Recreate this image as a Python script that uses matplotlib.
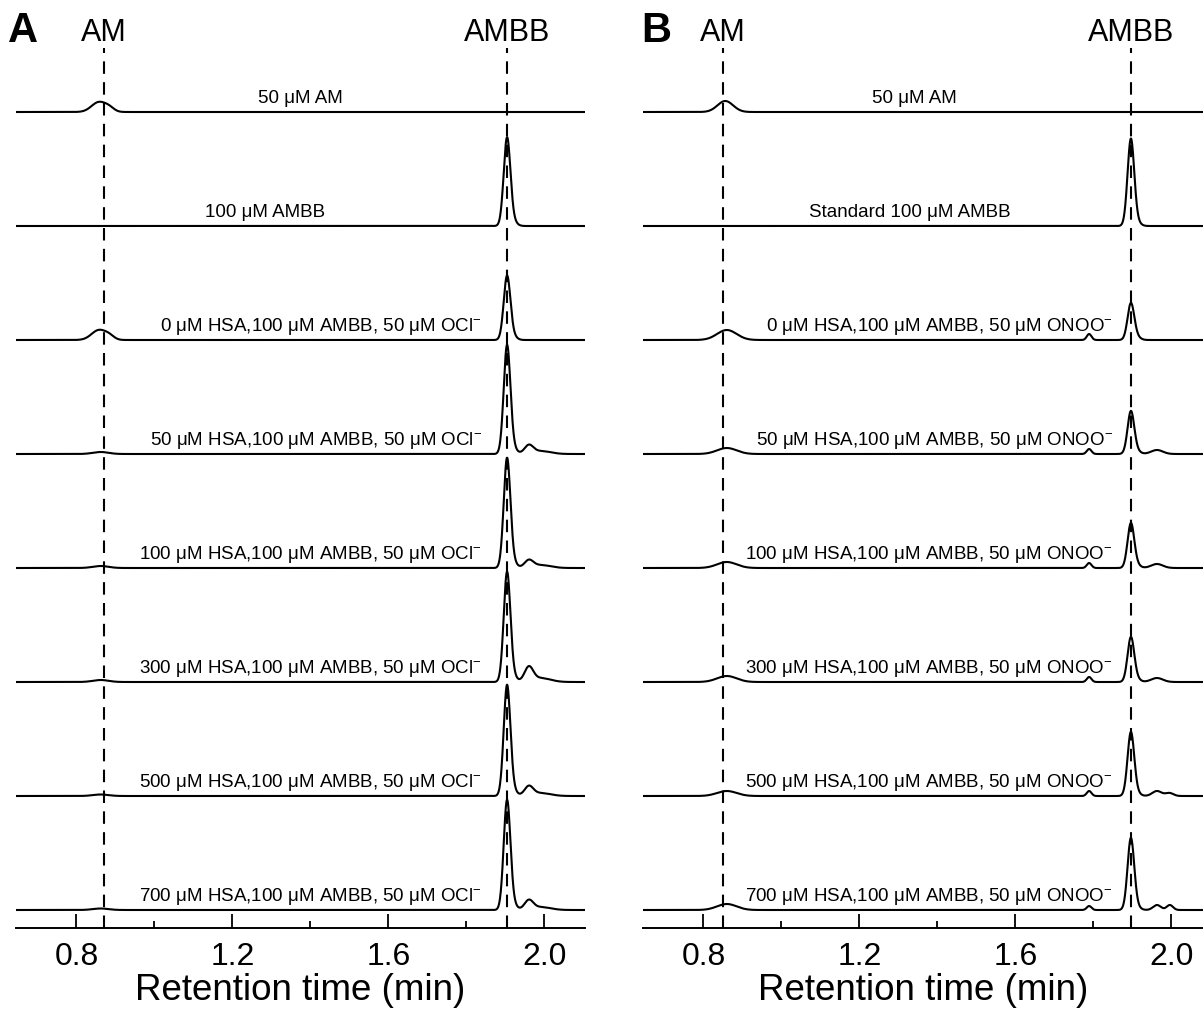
import numpy as np
import matplotlib
matplotlib.use('agg')
import matplotlib.pyplot as plt

plt.rcParams['font.family'] = ['Liberation Sans', 'DejaVu Sans']
plt.rcParams['mathtext.fontset'] = 'custom'
plt.rcParams['mathtext.rm'] = 'Liberation Sans'
plt.rcParams['mathtext.it'] = 'Liberation Sans:italic'
plt.rcParams['mathtext.bf'] = 'Liberation Sans:bold'

# peak tables: (retention time, height, width) per trace, heights in px-like units
labels_a = ['50 μM AM', '100 μM AMBB',
            '0 μM HSA,100 μM AMBB, 50 μM OCl$^{-}$',
            '50 μM HSA,100 μM AMBB, 50 μM OCl$^{-}$',
            '100 μM HSA,100 μM AMBB, 50 μM OCl$^{-}$',
            '300 μM HSA,100 μM AMBB, 50 μM OCl$^{-}$',
            '500 μM HSA,100 μM AMBB, 50 μM OCl$^{-}$',
            '700 μM HSA,100 μM AMBB, 50 μM OCl$^{-}$']
peaks_a = [[(0.858, 10, 0.019), (0.885, 3, 0.012)],
           [(1.904, 87, 0.0085), (1.918, 5, 0.01)],
           [(0.858, 10, 0.019), (0.885, 3, 0.012), (1.904, 63, 0.0085), (1.918, 4, 0.01)],
           [(0.862, 2, 0.02), (1.904, 107, 0.0085), (1.918, 6, 0.01), (1.960, 8, 0.011), (1.99, 3, 0.025)],
           [(0.862, 2, 0.02), (1.904, 108, 0.0085), (1.918, 6, 0.01), (1.960, 7, 0.011), (1.99, 3, 0.025)],
           [(0.862, 2, 0.02), (1.904, 108, 0.0085), (1.918, 6, 0.01), (1.960, 14, 0.011), (1.99, 4, 0.025)],
           [(0.862, 1.5, 0.02), (1.904, 109, 0.0085), (1.918, 6, 0.01), (1.960, 9, 0.011), (1.99, 3, 0.025)],
           [(0.862, 1.5, 0.02), (1.904, 108, 0.0085), (1.918, 6, 0.01), (1.960, 9, 0.011), (1.99, 3, 0.025)]]

labels_b = ['50 μM AM', 'Standard 100 μM AMBB',
            '0 μM HSA,100 μM AMBB, 50 μM ONOO$^{-}$',
            '50 μM HSA,100 μM AMBB, 50 μM ONOO$^{-}$',
            '100 μM HSA,100 μM AMBB, 50 μM ONOO$^{-}$',
            '300 μM HSA,100 μM AMBB, 50 μM ONOO$^{-}$',
            '500 μM HSA,100 μM AMBB, 50 μM ONOO$^{-}$',
            '700 μM HSA,100 μM AMBB, 50 μM ONOO$^{-}$']
peaks_b = [[(0.856, 11, 0.02)],
           [(1.896, 86, 0.0085), (1.91, 4, 0.01)],
           [(0.860, 10, 0.025), (1.789, 6, 0.006), (1.896, 36, 0.0085), (1.91, 3, 0.01)],
           [(0.860, 6, 0.025), (1.789, 5, 0.006), (1.896, 42, 0.0085), (1.91, 3, 0.01), (1.963, 4, 0.015)],
           [(0.860, 6, 0.025), (1.789, 5, 0.006), (1.896, 44, 0.0085), (1.91, 3, 0.01), (1.963, 4, 0.015)],
           [(0.860, 6, 0.025), (1.789, 5, 0.006), (1.896, 44, 0.0085), (1.91, 3, 0.01), (1.963, 4, 0.015)],
           [(0.860, 5, 0.025), (1.789, 5, 0.006), (1.896, 63, 0.0085), (1.91, 3, 0.01), (1.963, 5, 0.012), (1.995, 3, 0.01)],
           [(0.860, 6, 0.025), (1.789, 4, 0.006), (1.896, 71, 0.0085), (1.91, 3, 0.01), (1.963, 5, 0.01), (1.996, 5, 0.008)]]

marks_a = [0.870, 1.904]
marks_b = [0.849, 1.896]

W, H = 1203, 1014
fig = plt.figure(figsize=(W/100, H/100), dpi=100)

def panel(left, right, xmax, labels, peaks, marks, letter, letter_x, lab_x, first_x):
    ax = fig.add_axes([left/W, 86/H, (right-left)/W, (928-20)/H])
    ax.set_xlim(0.645, xmax)
    ax.set_ylim(0, 908)
    t = np.linspace(0.645, xmax, 3000)
    n = len(labels)
    for k in range(n):
        off = 18 + 114*(n-1-k)
        y = np.zeros_like(t)
        for (c, h, s) in peaks[k]:
            y += h*np.exp(-0.5*((t-c)/s)**2)
        ax.plot(t, y+off, color='black', lw=1.5)
        if k < 2:
            ax.text(first_x[k], off+9, labels[k], ha='center', va='baseline', fontsize=13.5)
        else:
            ax.text(lab_x, off+9, labels[k], ha='right', va='baseline', fontsize=13.5)
    for m in marks:
        ax.plot([m, m], [0, 880], color='black', lw=1.5, ls=(0, (6, 4)), clip_on=False)
    ax.text(marks[0], 895, 'AM', ha='center', va='center', fontsize=22)
    ax.text(marks[1], 895, 'AMBB', ha='center', va='center', fontsize=22)
    ax.text(letter_x, 897, letter, ha='left', va='center', fontsize=30, fontweight='bold')
    for s in ['left', 'right', 'top']:
        ax.spines[s].set_visible(False)
    ax.spines['bottom'].set_linewidth(1.4)
    ax.set_yticks([])
    ax.set_xticks([0.8, 1.2, 1.6, 2.0])
    ax.set_xticks([1.0, 1.4, 1.8], minor=True)
    ax.set_xticklabels(['0.8', '1.2', '1.6', '2.0'])
    ax.tick_params(axis='x', which='major', direction='in', length=10, width=1.3, labelsize=23, pad=10)
    ax.tick_params(axis='x', which='minor', direction='in', length=5, width=1.3)
    ax.set_xlabel('Retention time (min)', fontsize=26.5, labelpad=1)
    return ax

panel(16, 585, 2.104, labels_a, peaks_a, marks_a, 'A', 0.625, 1.84, [1.373, 1.283])
panel(643, 1203, 2.081, labels_b, peaks_b, marks_b, 'B', 0.64, 1.85, [1.342, 1.33])

fig.savefig('out.png', dpi=100)
